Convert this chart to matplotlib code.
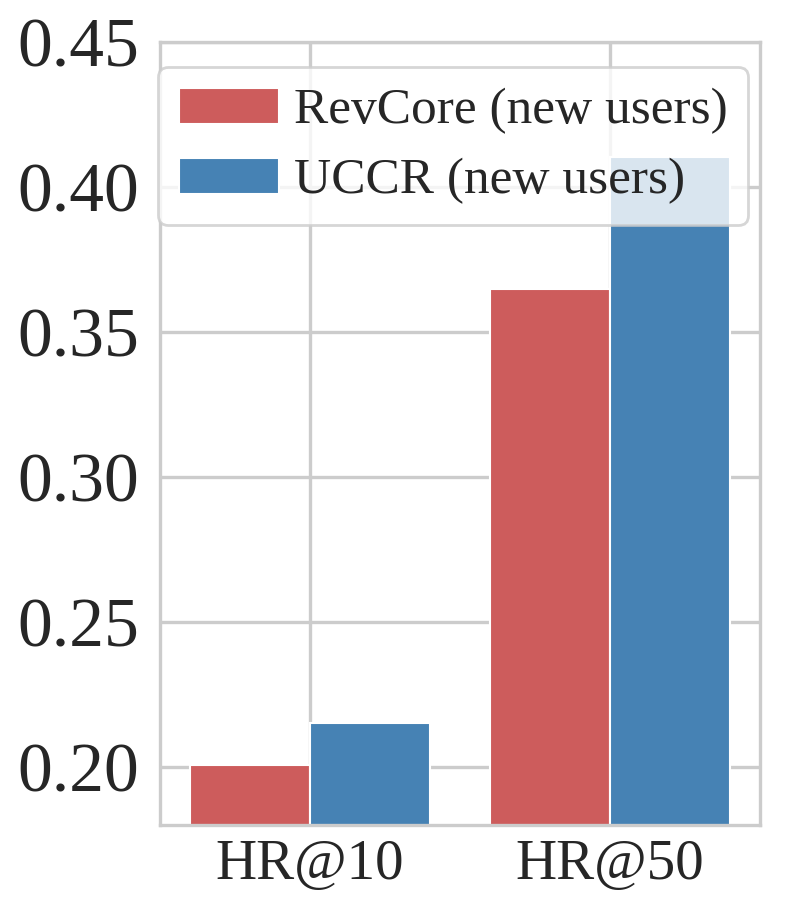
import numpy as np
import matplotlib
matplotlib.use('Agg')
import matplotlib.pyplot as plt

# values
metrics = ['HR@10', 'HR@50']
revcore = [0.2007, 0.3648]
uccr = [0.2151, 0.4103]
series_names = ['RevCore (new users)', 'UCCR (new users)']
yticks = [0.20, 0.25, 0.30, 0.35, 0.40, 0.45]

plt.rcParams['font.family'] = ['Liberation Serif', 'DejaVu Serif']
plt.rcParams['text.color'] = '#262626'
plt.rcParams['xtick.color'] = '#262626'
plt.rcParams['ytick.color'] = '#262626'

fig = plt.figure(figsize=(7.89, 9.15), dpi=100)
ax = fig.add_axes([160/789, 1-825/915, 600/789, 783/915])

x = np.arange(len(metrics))
w = 0.4
ax.bar(x - w/2, revcore, w, color='#CD5C5C', edgecolor='white', linewidth=1.5,
       label=series_names[0], zorder=2)
ax.bar(x + w/2, uccr, w, color='#4682B4', edgecolor='white', linewidth=1.5,
       label=series_names[1], zorder=2)

ax.set_xlim(-0.5, 1.5)
ax.set_ylim(0.18, 0.45)
ax.set_xticks(x)
ax.set_xticklabels(metrics)
ax.set_yticks(yticks)
ax.set_yticklabels(['%.2f' % v for v in yticks])
ax.tick_params(axis='y', length=0, pad=15, labelsize=50)
ax.tick_params(axis='x', length=0, pad=10, labelsize=41)

ax.grid(True, color='#cccccc', linewidth=2.4, zorder=0)
ax.set_axisbelow(True)
for s in ax.spines.values():
    s.set_color('#cccccc')
    s.set_linewidth(2.4)

leg = ax.legend(loc='upper left', bbox_to_anchor=(158/789, 1-67/915),
                bbox_transform=fig.transFigure, borderaxespad=0,
                fontsize=37, handletextpad=0.3, labelspacing=0.45,
                handlelength=1.95, borderpad=0.4, fancybox=True, framealpha=0.8)
leg.get_frame().set_edgecolor('#cccccc')
leg.get_frame().set_linewidth(2)

fig.savefig('out.png', dpi=100)
